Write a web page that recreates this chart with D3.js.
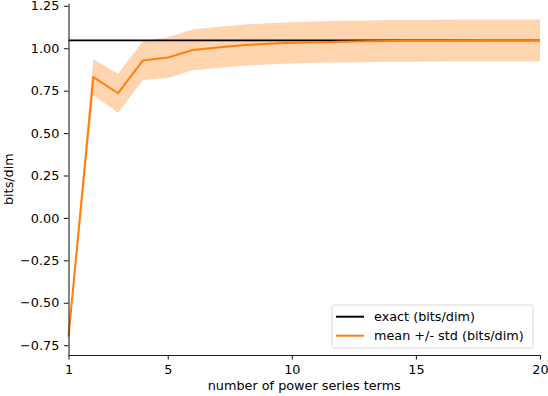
<!DOCTYPE html>
<html>
<head>
<meta charset="utf-8">
<script src="https://cdn.jsdelivr.net/npm/d3@7"></script>
<style>
  body { margin: 0; background: #fff; }
  text { font-family: "DejaVu Sans", sans-serif; fill: #000; }
  .axis text { font-size: 12.8px; font-family: "DejaVu Sans", sans-serif; }
  .axis path, .axis line { stroke: #222; stroke-width: 1.1; }
</style>
</head>
<body>
<div class="svg-container"></div>
<script>
// number of power series terms
let terms = [1, 2, 3, 4, 5, 6, 7, 8, 9, 10, 11, 12, 13, 14, 15, 16, 17, 18, 19, 20];
// mean estimate (bits/dim)
let meanVals = [-0.70, 0.83, 0.735, 0.928, 0.945, 0.99, 1.005, 1.018, 1.026, 1.032,
                1.036, 1.039, 1.041, 1.043, 1.044, 1.045, 1.046, 1.047, 1.047, 1.047];
// std of the estimate
let stdVals = [0.025, 0.105, 0.115, 0.115, 0.12, 0.12, 0.121, 0.121, 0.122, 0.122,
               0.122, 0.123, 0.123, 0.123, 0.123, 0.123, 0.123, 0.123, 0.123, 0.123];
let exactVal = 1.047;
let xTicks = [1, 5, 10, 15, 20];
let yTicks = [-0.75, -0.5, -0.25, 0, 0.25, 0.5, 0.75, 1.0, 1.25];
let legendLabels = ["exact (bits/dim)", "mean +/- std (bits/dim)"];

let width = 548, height = 396;
let padLeft = 68.5, padRight = 540, padTop = 3.3, padBottom = 355;

let svg = d3.select(".svg-container").append("svg")
  .attr("width", width)
  .attr("height", height);

const x = d3.scaleLinear().domain([1, 20]).range([padLeft, padRight]);
const y = d3.scaleLinear().domain([-0.808, 1.265]).range([padBottom, padTop]);

let data = terms.map((t, i) => ({ t: t, m: meanVals[i], s: stdVals[i] }));

// std band
svg.append("path")
  .datum(data)
  .attr("d", d3.area().x(d => x(d.t)).y0(d => y(d.m - d.s)).y1(d => y(d.m + d.s)))
  .attr("fill", "#ff7f0e")
  .attr("fill-opacity", 0.33)
  .attr("stroke", "none");

// exact line
svg.append("line")
  .attr("x1", x(1)).attr("x2", x(20))
  .attr("y1", y(exactVal)).attr("y2", y(exactVal))
  .attr("stroke", "#000")
  .attr("stroke-width", 1.8);

// mean line
svg.append("path")
  .datum(data)
  .attr("d", d3.line().x(d => x(d.t)).y(d => y(d.m)))
  .attr("fill", "none")
  .attr("stroke", "#ff7f0e")
  .attr("stroke-width", 2)
  .attr("stroke-linejoin", "round");

// axes
svg.append("g")
  .attr("class", "axis")
  .attr("transform", "translate(0," + padBottom + ")")
  .call(d3.axisBottom(x).tickValues(xTicks).tickSize(4.6).tickPadding(4.6).tickSizeOuter(0))
  .selectAll("text").attr("dy", "0.75em");

svg.append("g")
  .attr("class", "axis")
  .attr("transform", "translate(" + padLeft + ",0)")
  .call(d3.axisLeft(y).tickValues(yTicks).tickSize(4.6).tickPadding(4.6).tickSizeOuter(0)
    .tickFormat(d => d3.format(".2f")(d).replace("-", "\u2212")));

// axis labels
svg.append("text")
  .text("number of power series terms")
  .attr("x", (padLeft + padRight) / 2)
  .attr("y", 390)
  .attr("text-anchor", "middle")
  .style("font-size", "12.8px");

svg.append("text")
  .text("bits/dim")
  .attr("transform", "translate(13," + ((padTop + padBottom) / 2) + ") rotate(-90)")
  .attr("text-anchor", "middle")
  .style("font-size", "12.8px");

// legend
let legend = svg.append("g").attr("transform", "translate(332,305)");
legend.append("rect")
  .attr("width", 201).attr("height", 43)
  .attr("rx", 2.5)
  .attr("fill", "#fff").attr("fill-opacity", 0.8)
  .attr("stroke", "#d8d8d8").attr("stroke-width", 1);
let legendColors = ["#000", "#ff7f0e"];
legendLabels.forEach((label, i) => {
  legend.append("line")
    .attr("x1", 4).attr("x2", 32)
    .attr("y1", 11.7 + i * 19).attr("y2", 11.7 + i * 19)
    .attr("stroke", legendColors[i])
    .attr("stroke-width", 2);
  legend.append("text")
    .text(label)
    .attr("x", 42)
    .attr("y", 16.2 + i * 19)
    .style("font-size", "12.8px");
});
</script>
</body>
</html>
